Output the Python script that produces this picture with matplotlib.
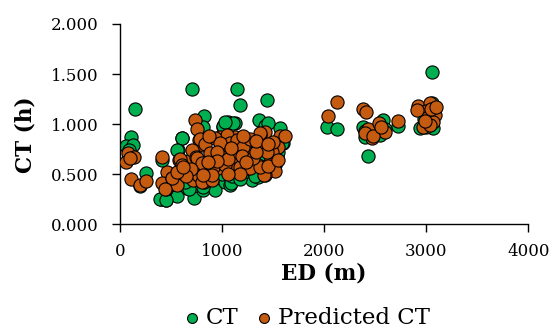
import matplotlib
matplotlib.use('Agg')
import matplotlib.pyplot as plt

ct_ed = [147, 114, 59, 131, 90, 261, 196, 409, 399, 451, 556, 605, 572, 663, 725,
         712, 827, 817, 1013, 611, 556, 392, 448, 680, 931, 637, 817, 1029, 1176,
         1438, 1127, 1062, 1366, 1422, 1569, 1078, 1291, 1356, 1520, 1144, 1007,
         1601, 1085, 1111, 1029, 1454, 1585, 1536, 817,
         900, 950, 1050, 1100, 1200, 1250, 1350, 1400, 1500, 1550, 1000, 1100,
         1200, 1300, 850, 800, 750, 700, 650, 600, 1180, 1320, 1480,
         3056, 2033, 2131, 2386, 2402, 2428, 2582, 2549, 2729, 3072, 2941, 3088,
         3056, 2400, 2450, 2600, 2980, 3010, 3040, 3080, 3000]
ct_val = [1.15, 0.875, 0.78, 0.79, 0.74, 0.51, 0.38, 0.64, 0.25, 0.24, 0.28, 0.86,
          0.74, 0.36, 0.26, 1.35, 1.08, 0.34, 0.97, 0.86, 0.74, 0.25, 0.24, 0.35,
          0.34, 0.425, 0.375, 0.425, 1.19, 1.24, 1.01, 1.02, 1.04, 0.98, 0.96,
          0.39, 0.44, 0.475, 0.59, 1.35, 0.98, 0.81, 0.41, 1.01, 1.02, 1.01, 0.81,
          0.675, 0.975,
          0.55, 0.62, 0.60, 0.65, 0.58, 0.68, 0.62, 0.70, 0.68, 0.72, 0.50, 0.48,
          0.50, 0.55, 0.60, 0.55, 0.50, 0.58, 0.62, 0.55, 0.45, 0.48, 0.55,
          1.52, 0.975, 0.95, 0.975, 0.87, 0.68, 1.04, 0.89, 0.98, 0.96, 0.96, 1.16,
          1.21, 0.93, 0.90, 0.95, 1.05, 1.10, 1.00, 1.12, 0.97]

# Predicted CT
pred_ed = [82, 65, 137, 100, 114, 196, 261, 409, 458, 409, 451, 507, 556, 582, 670,
           719, 735, 758, 777, 817, 703, 745, 784, 768, 833, 823, 784, 833, 980,
           1013, 882, 588, 752, 605, 882, 964, 516, 801, 899, 441, 1422, 1373, 1569,
           1127, 1046, 1078, 1193, 1405, 1487, 1127, 1258, 1356, 1552, 1160, 1471,
           1356, 1258, 1111, 1520, 1422, 1618, 1487, 1412, 931, 1144, 980, 1111,
           1209, 997, 801, 915, 1029, 1176, 1275, 1373, 1438, 1373, 899, 817,
           950, 1060, 1200, 1300, 1330, 1240, 1180, 1060, 950, 860, 700, 650, 560,
           620, 1500, 1450, 1550, 1280, 1330, 1450, 1210, 1090, 870,
           2131, 2036, 2386, 2412, 2435, 2467, 2402, 2543, 2598, 2729, 2925, 3039,
           3000, 3088, 3007, 3072, 2974, 3033, 2908, 2480, 2560, 3050, 2990, 3100]
pred_val = [0.71, 0.625, 0.675, 0.66, 0.45, 0.39, 0.435, 0.675, 0.525, 0.415, 0.35,
            0.46, 0.39, 0.64, 0.635, 0.44, 1.04, 0.95, 0.84, 0.79, 0.74, 0.675,
            0.575, 0.49, 0.51, 0.425, 0.85, 0.80, 0.875, 0.81, 0.715, 0.65, 0.66,
            0.59, 0.55, 0.56, 0.46, 0.425, 0.44, 0.35, 0.925, 0.89, 0.88, 0.875,
            0.89, 0.81, 0.81, 0.76, 0.74, 0.715, 0.715, 0.775, 0.775, 0.64, 0.625,
            0.59, 0.56, 0.54, 0.535, 0.49, 0.88, 0.725, 0.49, 0.86, 0.84, 0.81,
            0.725, 0.775, 0.675, 0.61, 0.575, 0.59, 0.575, 0.56, 0.575, 0.725,
            0.91, 0.49, 0.49,
            0.72, 0.65, 0.68, 0.66, 0.72, 0.62, 0.50, 0.50, 0.63, 0.62, 0.55, 0.48,
            0.52, 0.57, 0.82, 0.58, 0.64, 0.85, 0.83, 0.80, 0.88, 0.76, 0.88,
            1.225, 1.08, 1.15, 1.12, 0.95, 0.86, 0.91, 1.015, 0.925, 1.03, 1.18,
            1.21, 1.13, 1.09, 1.06, 1.025, 0.975, 0.99, 1.14, 0.88, 0.97, 1.15,
            1.03, 1.17]

plt.rcParams['font.family'] = ['DejaVu Serif']

fig = plt.figure(figsize=(5.52, 3.32), dpi=100)
ax = fig.add_axes([0.217, 0.324, 0.74, 0.604])

ax.scatter(ct_ed, ct_val, s=90, color='#00B050', edgecolor='black', linewidth=0.8,
           label='CT', zorder=2)
ax.scatter(pred_ed, pred_val, s=90, color='#C55A11', edgecolor='black', linewidth=0.8,
           label='Predicted CT', zorder=3)

ax.set_xlim(0, 4000)
ax.set_ylim(0, 2.0)
ax.set_xticks([0, 1000, 2000, 3000, 4000])
ax.set_yticks([0, 0.5, 1.0, 1.5, 2.0])
ax.set_yticklabels(['%.3f' % v for v in [0, 0.5, 1.0, 1.5, 2.0]])
ax.tick_params(labelsize=12, direction='out', length=5.5, width=1, color='black')
ax.tick_params(axis='y', pad=10)
ax.tick_params(axis='x', pad=8)
ax.spines['top'].set_visible(False)
ax.spines['right'].set_visible(False)
ax.spines['left'].set_linewidth(1)
ax.spines['bottom'].set_linewidth(1)

ax.set_xlabel('ED (m)', fontsize=15.5, fontweight='bold', labelpad=2)
ax.set_ylabel('CT (h)', fontsize=15.5, fontweight='bold')
ax.yaxis.set_label_coords(-0.205, 0.446)

fig.legend(loc='center', bbox_to_anchor=(0.553, 0.042), ncol=2, frameon=False,
           fontsize=16.5, markerscale=0.75, handletextpad=0.1, columnspacing=0.6,
           handlelength=1.0, borderpad=0.1)

fig.savefig('out.png', dpi=100)
